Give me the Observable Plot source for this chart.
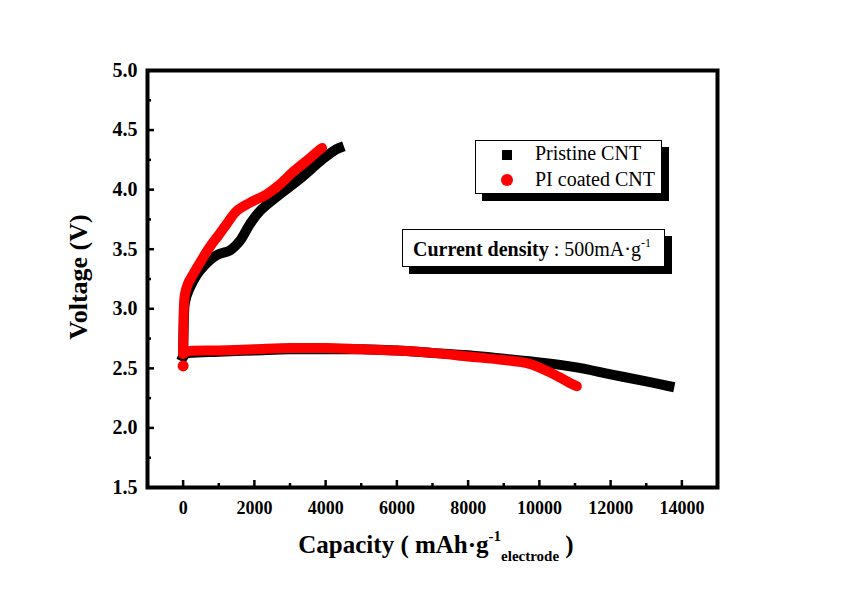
<!DOCTYPE html>
<html>
<head>
<meta charset="utf-8">
<script src="https://cdn.jsdelivr.net/npm/d3@7"></script>
<script src="https://cdn.jsdelivr.net/npm/@observablehq/plot@0.6"></script>
<style>
  body { margin: 0; background: #fff; }
  #wrap { position: relative; width: 854px; height: 608px; font-family: "Liberation Serif", "Times New Roman", Times, "DejaVu Serif", serif; }
  .ov { position: absolute; white-space: nowrap; color: #000; }
  .box { position: absolute; background: #fff; border: 1.5px solid #000; box-shadow: 7px 7px 0 #000; box-sizing: border-box; }
</style>
</head>
<body>
<div id="wrap"></div>
<script>
// Series names
const seriesNames = ["Pristine CNT", "PI coated CNT"];
const seriesColors = ["#000000", "#ff0000"];

// Pristine CNT — discharge (capacity mAh/g, voltage V)
const pristineDisCap = [0, 50, 200, 1000, 2000, 3000, 4000, 5000, 6000, 7000, 8000, 9000, 10000, 11000, 12000, 13000, 13650];
const pristineDisV   = [2.60, 2.62, 2.63, 2.64, 2.65, 2.66, 2.66, 2.66, 2.65, 2.63, 2.61, 2.58, 2.55, 2.51, 2.45, 2.39, 2.35];
// Pristine CNT — charge
const pristineChgCap = [0, 20, 50, 150, 470, 938, 1312, 1592, 1873, 2154, 2624, 3278, 3933, 4308, 4380];
const pristineChgV   = [2.62, 2.90, 3.05, 3.15, 3.32, 3.45, 3.49, 3.57, 3.71, 3.82, 3.94, 4.09, 4.26, 4.34, 4.35];

// PI coated CNT — discharge
const piDisCap = [0, 100, 1000, 2000, 3000, 4000, 5000, 6000, 7000, 8000, 9000, 9700, 10200, 10600, 10900, 11050];
const piDisV   = [2.62, 2.64, 2.65, 2.66, 2.67, 2.67, 2.66, 2.65, 2.63, 2.60, 2.57, 2.54, 2.48, 2.42, 2.37, 2.35];
// PI coated CNT — charge
const piChgCap = [0, 10, 20, 50, 150, 281, 500, 750, 1000, 1218, 1500, 1873, 2340, 2700, 3090, 3500, 3850, 3900];
const piChgV   = [2.63, 2.80, 3.00, 3.12, 3.22, 3.29, 3.40, 3.52, 3.62, 3.71, 3.82, 3.89, 3.96, 4.04, 4.15, 4.25, 4.34, 4.35];
// PI coated CNT — first discharge point
const piFirstCap = [0];
const piFirstV = [2.52];

// Axis ticks
const xTicks = [0, 2000, 4000, 6000, 8000, 10000, 12000, 14000];
const xMinor = [-1000, 1000, 3000, 5000, 7000, 9000, 11000, 13000];
const yTicks = [1.5, 2.0, 2.5, 3.0, 3.5, 4.0, 4.5, 5.0];
const yMinor = [1.75, 2.25, 2.75, 3.25, 3.75, 4.25, 4.75];

const toRows = (cap, v) => cap.map((c, i) => ({c, v: v[i]}));

const serif = "'Liberation Serif', 'Times New Roman', Times, 'DejaVu Serif', serif";
const tickFont = {fontFamily: serif, fontWeight: "bold"};

const chart = Plot.plot({
  width: 854,
  height: 608,
  marginLeft: 147,
  marginRight: 137,
  marginTop: 70,
  marginBottom: 121,
  style: {background: "white", overflow: "visible", fontFamily: serif},
  x: {domain: [-1000, 15000]},
  y: {domain: [1.5, 5.0]},
  marks: [
    Plot.line(toRows(pristineDisCap, pristineDisV), {x: "c", y: "v", stroke: seriesColors[0], strokeWidth: 10, curve: "catmull-rom", strokeLinecap: "square"}),
    Plot.line(toRows(pristineChgCap, pristineChgV), {x: "c", y: "v", stroke: seriesColors[0], strokeWidth: 10, curve: "catmull-rom", strokeLinecap: "square"}),
    Plot.line(toRows(piDisCap, piDisV), {x: "c", y: "v", stroke: seriesColors[1], strokeWidth: 10, curve: "catmull-rom", strokeLinecap: "round"}),
    Plot.line(toRows(piChgCap, piChgV), {x: "c", y: "v", stroke: seriesColors[1], strokeWidth: 10, curve: "catmull-rom", strokeLinecap: "round"}),
    Plot.dot(toRows(piFirstCap, piFirstV), {x: "c", y: "v", fill: seriesColors[1], r: 5.5, stroke: null}),
    // inward ticks
    Plot.axisX({ticks: xTicks, tickSize: -7, strokeWidth: 2.5, tickFormat: () => "", label: null}),
    Plot.axisX({ticks: xMinor, tickSize: -4, strokeWidth: 2.5, tickFormat: () => "", label: null}),
    Plot.axisY({ticks: yTicks, tickSize: -7, strokeWidth: 2.5, tickFormat: () => "", label: null}),
    Plot.axisY({ticks: yMinor, tickSize: -4, strokeWidth: 2.5, tickFormat: () => "", label: null}),
    // tick labels
    Plot.axisX({ticks: xTicks, tickSize: 0, tickPadding: 14, label: null, tickFormat: d3.format("d"), fontSize: 18, ...tickFont}),
    Plot.axisY({ticks: yTicks, tickSize: 0, tickPadding: 10, label: null, tickFormat: d3.format(".1f"), fontSize: 20, ...tickFont}),
    Plot.frame({stroke: "black", strokeWidth: 4})
  ]
});

const wrap = document.getElementById("wrap");
wrap.appendChild(chart);

function addHTML(html) {
  const t = document.createElement("template");
  t.innerHTML = html.trim();
  wrap.appendChild(t.content.firstChild);
}

// Axis titles
addHTML(`<div class="ov" style="left:79px; top:277px; transform: translate(-50%,-50%) rotate(-90deg); font-size:26px; font-weight:bold;">Voltage (V)</div>`);
addHTML(`<div class="ov" style="left:436px; top:528px; transform: translateX(-50%); font-size:25px; font-weight:bold;">Capacity ( mAh·g<sup style="font-size:15px; vertical-align: 12px;">-1</sup><sub style="font-size:15px; vertical-align: -8px;">electrode</sub> )</div>`);

// Legend box
addHTML(`<div class="box" style="left:475px; top:140px; width:187px; height:54px;"></div>`);
addHTML(`<div class="ov" style="left:502px; top:150px; width:10px; height:10px; background:${seriesColors[0]};"></div>`);
addHTML(`<div class="ov" style="left:501px; top:174px; width:12px; height:12px; border-radius:50%; background:${seriesColors[1]};"></div>`);
addHTML(`<div class="ov" style="left:535px; top:142px; font-size:20px;">${seriesNames[0]}</div>`);
addHTML(`<div class="ov" style="left:535px; top:168px; font-size:20px;">${seriesNames[1]}</div>`);

// Current density box
addHTML(`<div class="box" style="left:402px; top:229px; width:263px; height:38px;"></div>`);
addHTML(`<div class="ov" style="left:413px; top:236px; font-size:20px;"><b>Current density</b> : 500mA·g<sup style="font-size:12px; vertical-align: 9px;">-1</sup></div>`);
</script>
</body>
</html>
